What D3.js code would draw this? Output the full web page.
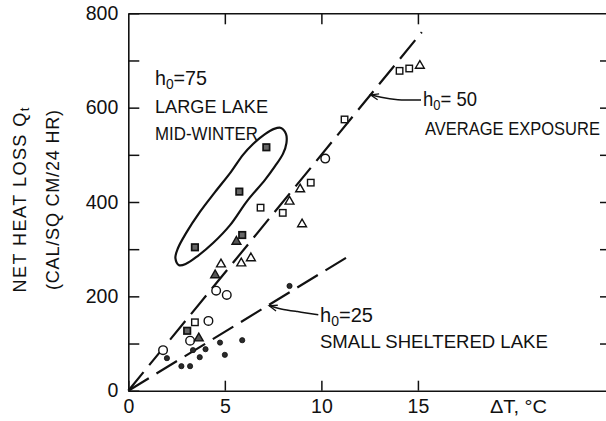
<!DOCTYPE html>
<html>
<head>
<meta charset="utf-8">
<script src="https://cdn.jsdelivr.net/npm/d3@7"></script>
<style>
body { margin: 0; background: #fff; }
svg { display: block; }
text { font-family: "Liberation Sans", Arial, sans-serif; fill: #111; }
</style>
</head>
<body>
<svg id="chart" width="606" height="421"></svg>
<script>
// tick values
var xTicks = [0, 5, 10, 15];
var yTicks = [0, 100, 200, 300, 400, 500, 600, 700, 800];
var yLabels = [0, 200, 400, 600, 800];

// observations: [deltaT (C), Qt]
var openCircles = [[1.8, 86], [3.2, 106], [4.15, 148], [4.55, 212], [5.1, 203], [10.2, 492]];
var filledDots = [[2.0, 69], [2.75, 52], [3.2, 52], [3.35, 86], [3.7, 71], [4.0, 88], [4.75, 102], [5.0, 76], [5.9, 107], [8.35, 222]];
var openSquares = [[3.45, 145], [6.85, 388], [8.0, 377], [9.45, 441], [11.2, 575], [14.05, 678], [14.55, 683]];
var hatchedSquares = [[3.05, 127], [3.45, 304], [5.75, 422], [5.9, 330], [7.15, 516]];
var openTriangles = [[4.8, 268], [5.85, 270], [6.35, 281], [8.35, 401], [8.9, 427], [9.0, 353], [15.1, 689]];
var filledTriangles = [[3.65, 111], [4.5, 245], [5.6, 316]];

// fitted lines Qt = h0 * deltaT
var lineH50 = [[0, 0], [15.2, 760]];
var lineH25 = [[0, 0], [11.45, 286]];

// outline round the h0 = 75 (large lake, mid-winter) points
var outlineH75 = [[7.91, 557], [8.17, 544], [8.19, 525], [8.01, 502], [7.6, 476], [7.08, 447],
  [6.15, 402], [5.27, 351], [4.39, 313], [3.61, 286], [2.99, 269], [2.63, 266], [2.44, 281],
  [2.57, 302], [2.99, 334], [3.71, 379], [4.49, 421], [5.32, 464], [5.94, 500], [6.46, 523],
  [7.08, 544], [7.55, 555]];

// callout arrows, ending on the lines
var arrowH50 = [[15.16, 616], [13.9, 616], [13.03, 622], [12.55, 627]];
var arrowH25 = [[9.84, 161], [8.72, 168], [7.86, 173], [7.3, 180]];

var svg = d3.select("#chart");

var x = d3.scaleLinear().domain([0, 25]).range([128.3, 611]);
var y = d3.scaleLinear().domain([0, 800]).range([390.7, 13.3]);

var defs = svg.append("defs");
defs.append("marker")
  .attr("id", "arrow")
  .attr("markerUnits", "userSpaceOnUse")
  .attr("markerWidth", 14).attr("markerHeight", 10)
  .attr("refX", 9).attr("refY", 5)
  .attr("orient", "auto")
  .append("path")
  .attr("d", "M1,2 L9,5 L1,8")
  .attr("fill", "none")
  .attr("stroke", "#111")
  .attr("stroke-width", 1.3);

function styleAxis(g) {
  g.selectAll("path.domain").attr("stroke", "#111").attr("stroke-width", 1.6);
  g.selectAll(".tick line").attr("stroke", "#111").attr("stroke-width", 1.5);
  g.selectAll(".tick text").attr("font-size", 19.5).attr("fill", "#111")
    .attr("font-family", "Liberation Sans, Arial, sans-serif");
}

svg.append("g")
  .attr("transform", "translate(0," + y(0) + ")")
  .call(d3.axisBottom(x).tickValues(xTicks).tickSize(-10).tickSizeOuter(0).tickPadding(8))
  .call(styleAxis);

svg.append("g")
  .attr("transform", "translate(0," + y(800) + ")")
  .call(d3.axisTop(x).tickValues(xTicks.slice(1)).tickSize(-11).tickSizeOuter(0).tickFormat(""))
  .call(styleAxis);

svg.append("g")
  .attr("transform", "translate(" + x(0) + ",0)")
  .call(d3.axisLeft(y).tickValues(yTicks).tickSize(-11).tickSizeOuter(0).tickPadding(10)
    .tickFormat(function (d) { return yLabels.indexOf(d) >= 0 ? d : ""; }))
  .call(styleAxis);

svg.append("g")
  .attr("transform", "translate(" + x(25) + ",0)")
  .call(d3.axisRight(y).tickValues(yTicks.slice(1, -1)).tickSize(-11).tickSizeOuter(0).tickFormat(""))
  .call(styleAxis);

// dashed h0 lines
var line = d3.line().x(function (d) { return x(d[0]); }).y(function (d) { return y(d[1]); });

[lineH50, lineH25].forEach(function (pts) {
  svg.append("path")
    .attr("d", line(pts))
    .attr("fill", "none")
    .attr("stroke", "#111")
    .attr("stroke-width", 2.2)
    .attr("stroke-dasharray", "24,9");
});

svg.append("path")
  .attr("d", line.curve(d3.curveCatmullRomClosed)(outlineH75))
  .attr("fill", "none")
  .attr("stroke", "#111")
  .attr("stroke-width", 2.2);

var curve = d3.line().x(function (d) { return x(d[0]); }).y(function (d) { return y(d[1]); })
  .curve(d3.curveBasis);

[arrowH50, arrowH25].forEach(function (pts) {
  svg.append("path")
    .attr("d", curve(pts))
    .attr("fill", "none")
    .attr("stroke", "#111")
    .attr("stroke-width", 1.5)
    .attr("marker-end", "url(#arrow)");
});

// markers
function circles(data, r, fill, sw) {
  svg.append("g").selectAll("circle").data(data).enter().append("circle")
    .attr("cx", function (d) { return x(d[0]); })
    .attr("cy", function (d) { return y(d[1]); })
    .attr("r", r)
    .attr("fill", fill)
    .attr("stroke", "#111")
    .attr("stroke-width", sw);
}

function squares(data, s, fill, sw) {
  svg.append("g").selectAll("rect").data(data).enter().append("rect")
    .attr("x", function (d) { return x(d[0]) - s / 2; })
    .attr("y", function (d) { return y(d[1]) - s / 2; })
    .attr("width", s).attr("height", s)
    .attr("fill", fill)
    .attr("stroke", "#111")
    .attr("stroke-width", sw);
}

function triangles(data, fill) {
  var sym = d3.symbol().type(d3.symbolTriangle).size(34);
  svg.append("g").selectAll("path").data(data).enter().append("path")
    .attr("transform", function (d) { return "translate(" + x(d[0]) + "," + y(d[1]) + ")"; })
    .attr("d", sym)
    .attr("fill", fill)
    .attr("stroke", "#111")
    .attr("stroke-width", 1.4);
}

circles(openCircles, 4.3, "#fff", 1.4);
circles(filledDots, 2.6, "#2a2a2a", 0.8);
squares(openSquares, 6.5, "#fff", 1.4);
squares(hatchedSquares, 6.5, "#666", 1.7);
triangles(openTriangles, "#fff");
triangles(filledTriangles, "#555");

// labels: squeeze each one horizontally to the lettering width of the original
function fit(t, px, py, width) {
  var w = t.node().getComputedTextLength();
  t.attr("transform", "translate(" + px + "," + py + ") scale(" + (width / w) + ",1)");
  return t;
}

function hLabel(px, py, value, width) {
  var t = svg.append("text").attr("font-size", 20);
  t.append("tspan").text("h");
  t.append("tspan").attr("dy", 4).attr("font-size", 14).text("0");
  t.append("tspan").attr("dy", -4).text("=" + value);
  return fit(t, px, py, width);
}

function label(px, py, str, width) {
  var t = svg.append("text").attr("font-size", 19).text(str);
  return fit(t, px, py, width);
}

hLabel(155, 85, "75", 52);
label(155, 113, "LARGE  LAKE", 113);
label(155, 140, "MID-WINTER", 103);

hLabel(423, 106, " 50", 54);
label(425, 135, "AVERAGE  EXPOSURE", 175);

hLabel(320, 322, "25", 53);
label(320, 348, "SMALL  SHELTERED  LAKE", 228);

label(490, 413, "\u0394T,  \u00B0C", 57);

// y title
var yt = svg.append("text")
  .attr("transform", "translate(26,200) rotate(-90)")
  .attr("text-anchor", "middle")
  .attr("font-size", 18)
  .attr("textLength", 185)
  .attr("lengthAdjust", "spacing");
yt.append("tspan").text("NET HEAT LOSS Q");
yt.append("tspan").attr("dy", 3).attr("font-size", 13).text("t");

svg.append("text")
  .attr("transform", "translate(59,200) rotate(-90)")
  .attr("text-anchor", "middle")
  .attr("font-size", 18)
  .attr("textLength", 180)
  .attr("lengthAdjust", "spacing")
  .text("(CAL/SQ CM/24 HR)");
</script>
</body>
</html>
